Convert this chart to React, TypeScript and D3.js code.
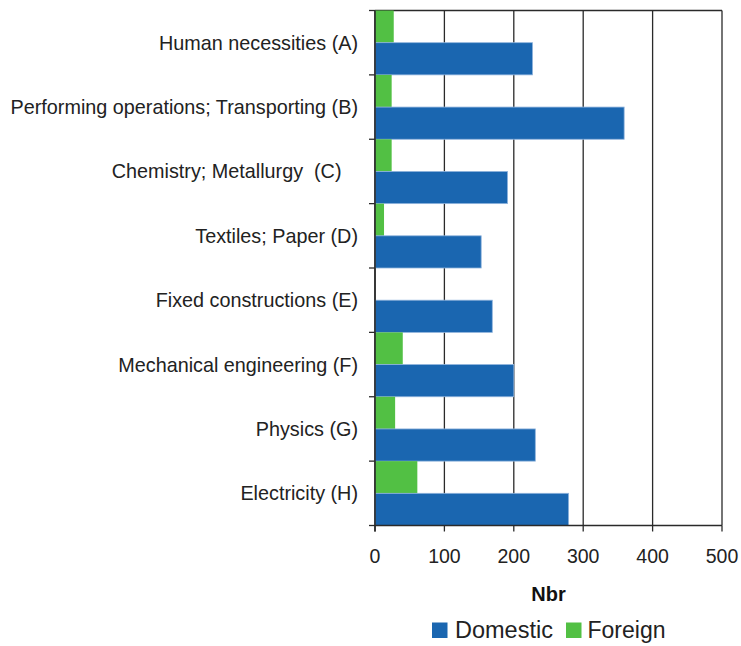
import React from "react";
import * as d3 from "d3";

const categories = [
  "Human necessities (A)",
  "Performing operations; Transporting (B)",
  "Chemistry; Metallurgy  (C)   ",
  "Textiles; Paper (D)",
  "Fixed constructions (E)",
  "Mechanical engineering (F)",
  "Physics (G)",
  "Electricity (H)",
];
const domestic = [227, 359, 191, 153, 169, 200, 231, 279];
const foreign = [27, 24, 24, 13, 0, 40, 29, 61];
const xTicks = [0, 100, 200, 300, 400, 500];
const seriesNames = ["Domestic", "Foreign"];
const axisTitle = "Nbr";

const W = 741;
const H = 646;
const M = { left: 375, right: 19, top: 10.5, bottom: 120.5 };
const BLUE = "#1a66b0";
const GREEN = "#52c044";
const FONT = "'Liberation Sans', Arial, sans-serif";

export default function App() {
  const iw = W - M.left - M.right;
  const ih = H - M.top - M.bottom;
  const x = d3.scaleLinear().domain([0, 500]).range([0, iw]);
  const y = d3.scaleBand().domain(categories).range([0, ih]).padding(0);
  const sub = d3.scaleBand().domain(["Foreign", "Domestic"]).range([0, y.bandwidth()]).padding(0);

  return (
    <svg width={W} height={H} style={{ position: "absolute", left: 0, top: 0, background: "#fff" }}>
      <g transform={`translate(${M.left},${M.top})`}>
        {xTicks.map((t) => (
          <line key={"g" + t} x1={x(t)} x2={x(t)} y1={0} y2={ih} stroke="#2a2a2a" strokeWidth={1.3} />
        ))}
        <line x1={0} x2={iw} y1={0} y2={0} stroke="#2a2a2a" strokeWidth={1.3} />
        {categories.map((c, i) => (
          <g key={c}>
            <rect
              x={x(0)}
              y={(y(c) as number) + (sub("Foreign") as number)}
              width={x(foreign[i]) - x(0)}
              height={sub.bandwidth()}
              fill={GREEN}
            />
            <rect
              x={x(0)}
              y={(y(c) as number) + (sub("Domestic") as number)}
              width={x(domestic[i]) - x(0)}
              height={sub.bandwidth()}
              fill={BLUE}
              stroke="#8fb3dc"
              strokeWidth={0.8}
            />
            <text
              x={-17}
              y={(y(c) as number) + y.bandwidth() / 2}
              textAnchor="end"
              dominantBaseline="central"
              fontFamily={FONT}
              fontSize={19.8}
              fill="#222"
              style={{ whiteSpace: "pre" }}
            >
              {c}
            </text>
          </g>
        ))}
        {categories.map((c, i) => (
          <line key={"yt" + i} x1={-6} x2={0} y1={(y(c) as number)} y2={(y(c) as number)} stroke="#2a2a2a" strokeWidth={1.3} />
        ))}
        <line x1={-6} x2={0} y1={ih} y2={ih} stroke="#2a2a2a" strokeWidth={1.3} />
        <line x1={0} x2={0} y1={0} y2={ih + 6} stroke="#2a2a2a" strokeWidth={1.6} />
        <line x1={0} x2={iw} y1={ih} y2={ih} stroke="#2a2a2a" strokeWidth={1.6} />
        {xTicks.map((t) => (
          <g key={"xt" + t}>
            <line x1={x(t)} x2={x(t)} y1={ih} y2={ih + 6} stroke="#2a2a2a" strokeWidth={1.3} />
            <text
              x={x(t)}
              y={ih + 30}
              textAnchor="middle"
              dominantBaseline="central"
              fontFamily={FONT}
              fontSize={19.5}
              fill="#222"
            >
              {t}
            </text>
          </g>
        ))}
        <text
          x={iw / 2}
          y={ih + 68}
          textAnchor="middle"
          dominantBaseline="central"
          fontFamily={FONT}
          fontSize={20}
          fontWeight="bold"
          fill="#111"
        >
          {axisTitle}
        </text>
      </g>
      <g transform={`translate(432,630)`}>
        <rect x={0} y={-7.5} width={15.5} height={15.5} fill={BLUE} />
        <text x={23} y={0} dominantBaseline="central" fontFamily={FONT} fontSize={23.5} fill="#222">
          {seriesNames[0]}
        </text>
        <rect x={134} y={-7.5} width={15.5} height={15.5} fill={GREEN} />
        <text x={155.5} y={0} dominantBaseline="central" fontFamily={FONT} fontSize={23} fill="#222">
          {seriesNames[1]}
        </text>
      </g>
    </svg>
  );
}
